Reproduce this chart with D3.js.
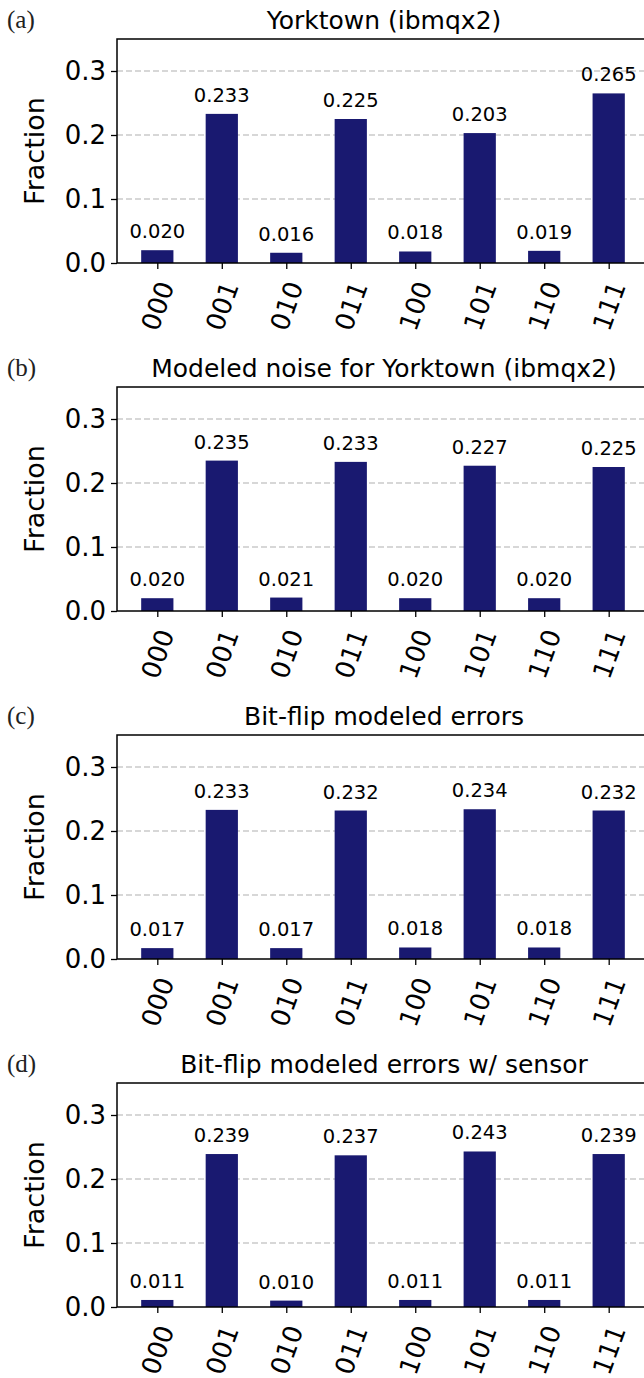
<!DOCTYPE html>
<html>
<head>
<meta charset="utf-8">
<script src="https://cdn.jsdelivr.net/npm/d3@7"></script>
<style>
  body { margin: 0; background: #fff; }
  svg { display: block; }
</style>
</head>
<body>
<svg id="chart" width="644" height="1378"></svg>
<script>
// categories (measured bit strings)
var states = ["000", "001", "010", "011", "100", "101", "110", "111"];

// one series per panel
var yorktown = [0.020, 0.233, 0.016, 0.225, 0.018, 0.203, 0.019, 0.265];
var modeledNoise = [0.020, 0.235, 0.021, 0.233, 0.020, 0.227, 0.020, 0.225];
var bitFlip = [0.017, 0.233, 0.017, 0.232, 0.018, 0.234, 0.018, 0.232];
var bitFlipSensor = [0.011, 0.239, 0.010, 0.237, 0.011, 0.243, 0.011, 0.239];

var titles = ["Yorktown (ibmqx2)", "Modeled noise for Yorktown (ibmqx2)",
              "Bit-flip modeled errors", "Bit-flip modeled errors w/ sensor"];
var panelTags = ["(a)", "(b)", "(c)", "(d)"];
var yTicks = [0.0, 0.1, 0.2, 0.3];

var panels = [yorktown, modeledNoise, bitFlip, bitFlipSensor];

var svg = d3.select("#chart");

var left = 117, right = 649;
var plotH = 224;      // height of each axes box
var step = 348;       // vertical distance between panels
var firstTop = 39;

var barColor = "#191970";

// matplotlib style x range: bars of width 0.5 with 5% margins
var x = d3.scaleLinear().domain([-0.625, states.length - 1 + 0.625]).range([left, right]);
var barW = x(0.5) - x(0);

panels.forEach(function(values, p) {
    var top = firstTop + p * step;
    var bottom = top + plotH;
    var y = d3.scaleLinear().domain([0, 0.35]).range([bottom, top]);

    var g = svg.append("g");

    // panel tag
    g.append("text")
        .attr("x", 7)
        .attr("y", top - 11)
        .attr("font-family", "'Liberation Serif', 'DejaVu Serif', serif")
        .attr("font-size", 25)
        .attr("fill", "#222")
        .text(panelTags[p]);

    // title
    g.append("text")
        .attr("x", (left + right) / 2 + 1)
        .attr("y", top - 10)
        .attr("text-anchor", "middle")
        .attr("font-family", "'DejaVu Sans', sans-serif")
        .attr("font-size", 25)
        .attr("fill", "#000")
        .text(titles[p]);

    // grid
    g.selectAll(".grid")
        .data(yTicks.filter(function(t) { return t > 0; }))
        .enter()
        .append("line")
        .attr("x1", left)
        .attr("x2", right)
        .attr("y1", function(d) { return y(d); })
        .attr("y2", function(d) { return y(d); })
        .attr("stroke", "#b0b0b0")
        .attr("stroke-width", 1.2)
        .attr("stroke-dasharray", "6,3");

    // bars
    g.selectAll(".bar")
        .data(values)
        .enter()
        .append("rect")
        .attr("x", function(d, i) { return x(i) - barW / 2; })
        .attr("y", function(d) { return y(d); })
        .attr("width", barW)
        .attr("height", function(d) { return y(0) - y(d); })
        .attr("fill", barColor);

    // value labels
    g.selectAll(".lbl")
        .data(values)
        .enter()
        .append("text")
        .attr("x", function(d, i) { return x(i); })
        .attr("y", function(d) { return y(d) - 12; })
        .attr("text-anchor", "middle")
        .attr("font-family", "'DejaVu Sans', sans-serif")
        .attr("font-size", 19.5)
        .attr("fill", "#000")
        .text(function(d) { return d3.format(".3f")(d); });

    // y axis
    var yAxis = d3.axisLeft(y).tickValues(yTicks).tickFormat(d3.format(".1f"))
        .tickSize(6).tickPadding(5);
    var ya = g.append("g")
        .attr("transform", "translate(" + left + ",0)")
        .call(yAxis);
    ya.select(".domain").remove();
    ya.selectAll("line").attr("stroke", "#000").attr("stroke-width", 1.3);
    ya.selectAll("text")
        .attr("font-family", "'DejaVu Sans', sans-serif")
        .attr("font-size", 26)
        .attr("fill", "#000");

    // x axis
    var xAxis = d3.axisBottom(x).tickValues(d3.range(states.length))
        .tickFormat(function(i) { return states[i]; })
        .tickSize(6);
    var xa = g.append("g")
        .attr("transform", "translate(0," + bottom + ")")
        .call(xAxis);
    xa.select(".domain").remove();
    xa.selectAll("line").attr("stroke", "#000").attr("stroke-width", 1.3);
    xa.selectAll("text")
        .attr("font-family", "'DejaVu Sans', sans-serif")
        .attr("font-size", 26)
        .attr("fill", "#000")
        .attr("y", null)
        .attr("dy", null)
        .attr("text-anchor", "middle")
        .attr("dominant-baseline", "central")
        .attr("transform", "translate(0,43) rotate(-70)");

    // frame
    g.append("rect")
        .attr("x", left)
        .attr("y", top)
        .attr("width", right - left)
        .attr("height", plotH)
        .attr("fill", "none")
        .attr("stroke", "#000")
        .attr("stroke-width", 1.5);

    // y label
    g.append("text")
        .attr("transform", "translate(" + 44 + "," + (top + plotH / 2) + ") rotate(-90)")
        .attr("text-anchor", "middle")
        .attr("font-family", "'DejaVu Sans', sans-serif")
        .attr("font-size", 27)
        .attr("fill", "#000")
        .text("Fraction");
});
</script>
</body>
</html>
